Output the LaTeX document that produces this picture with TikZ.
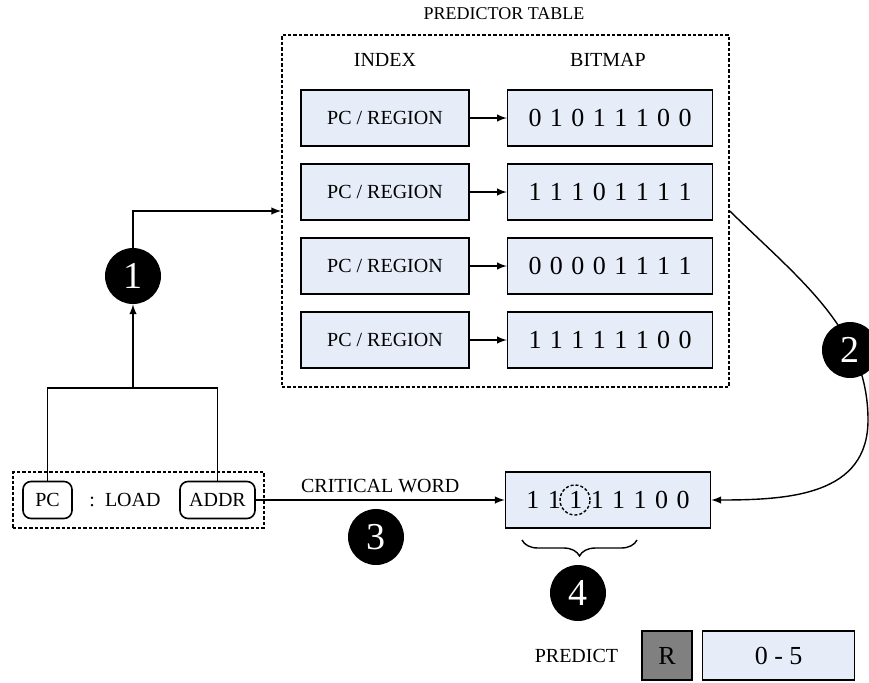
\documentclass[tikz,border=0pt]{standalone}
\usepackage{fontspec}
\setmainfont{Liberation Serif}
\newfontfamily\bitfont[WordSpace=1.3]{Liberation Serif}
\usetikzlibrary{arrows,positioning,decorations.pathreplacing}
\definecolor{cellblue}{RGB}{231,237,248}
\definecolor{regfill}{RGB}{128,128,128}

\begin{document}
\begin{tikzpicture}[
	x=0.5pt, y=-0.5pt, >=latex,
	every node/.style = {font=\fontsize{10}{12}\selectfont},
	cell/.style = {draw, line width=0.8pt, fill=cellblue, minimum height=28pt, inner sep=0pt},
	idx/.style = {cell, minimum width=84pt},
	bits/.style = {cell, minimum width=102.5pt, font=\bitfont\fontsize{13}{15}\selectfont},
	reg/.style = {draw, line width=0.8pt, rounded corners=4pt, minimum height=18.5pt, inner sep=0pt},
	group/.style = {draw, line width=0.8pt, dash pattern=on 1.7pt off 1pt, inner sep=0pt},
	badge/.style = {circle, fill=black, text=white, minimum size=28pt, inner sep=0pt, font=\fontsize{19}{19}\selectfont},
	wire/.style = {line width=0.7pt}
]
\useasboundingbox (0,0) rectangle (869,682);

% predictor table
\node [group, minimum width=223.5pt, minimum height=176pt] (tbl) at (505.5,211) {};
\node (tbltitle) at (504,14) {\fontsize{9}{11}\selectfont PREDICTOR TABLE};
\node (index) at (385,60) {INDEX};
\node (bitmap) at (608,60) {BITMAP};
\foreach \bits [count=\i] in {0 1 0 1 1 1 0 0, 1 1 1 0 1 1 1 1, 0 0 0 0 1 1 1 1, 1 1 1 1 1 1 0 0} {
	\node [idx] (idx\i) at (385, 44+74*\i) {PC / REGION};
	\node [bits, right=18.5pt of idx\i] (bits\i) {\bits};
	\draw [wire, ->] (idx\i) -- (bits\i);
}

% load instruction
\node [group, minimum width=125.5pt, minimum height=28pt] (ld) at (138.5,500) {};
\node [reg, minimum width=24.5pt] (pc) at (47.5,500) {PC};
\node [reg, minimum width=37.5pt] (addr) at (217.5,500) {ADDR};
\node (load) at (125,500) {:\ \ LOAD};

\coordinate (split) at (133,388);
\node [badge] (c1) at (133,276) {1};
\draw [wire] (pc) -- (pc |- split) -- (addr |- split) -- (addr);
\draw [wire, ->] (split) -- (c1);
\draw [wire, ->] (c1) |- (tbl.west);

% selected bitmap
\node [bits] (res) at (608,500) {1 1 1 1 1 1 0 0};
\node [circle, draw, line width=0.7pt, dash pattern=on 1.5pt off 1pt, minimum size=15pt, inner sep=0pt] (crit) at (575,500) {};
\draw [wire, ->] (addr) -- node [above] {CRITICAL WORD} (res);
\node [badge] (c3) at (376,537) {3};

\draw [wire, ->] (tbl.east) .. controls (800,280) and (868,330) .. (868,420)
	.. controls (868,495) and (790,500) .. (res.east);
\node [badge] (c2) at (850,350) {2};

% prediction
\coordinate (bl) at (522,540);
\coordinate (br) at (637,540);
\draw [wire, decorate, decoration={brace, mirror, amplitude=8pt}] (bl) -- (br);
\node [badge] (c4) at (578,593) {4};

\node [cell, fill=regfill, minimum width=25pt, minimum height=24.5pt, font=\fontsize{13}{15}\selectfont] (rbit) at (667,655.5) {R};
\node [cell, minimum width=76pt, minimum height=24.5pt, font=\fontsize{13}{15}\selectfont, right=4.5pt of rbit] (range) {0 - 5};
\node [left=8pt of rbit] (predict) {PREDICT};
\end{tikzpicture}
\end{document}
